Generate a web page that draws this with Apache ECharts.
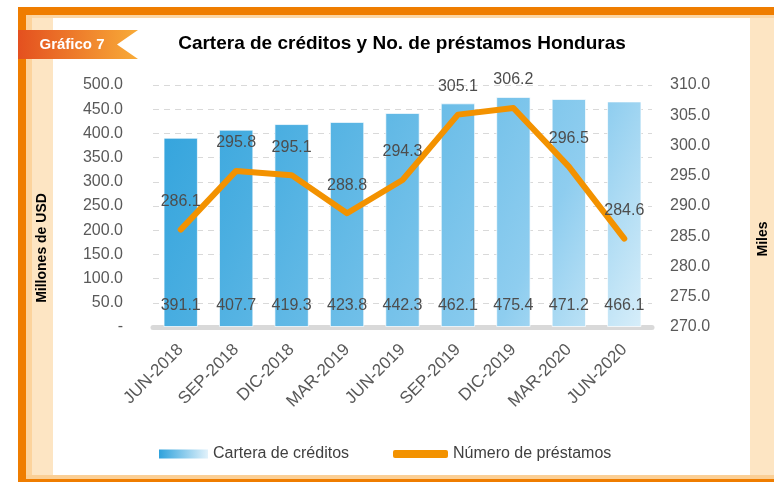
<!DOCTYPE html>
<html>
<head>
<meta charset="utf-8">
<script src="https://cdn.jsdelivr.net/npm/echarts@6/dist/echarts.min.js"></script>
<style>
  html, body { margin: 0; padding: 0; background: #fff; }
  #main { width: 774px; height: 482px; }
</style>
</head>
<body>
<div id="main"></div>
<script>
// datos del grafico
var categorias = ['JUN-2018', 'SEP-2018', 'DIC-2018', 'MAR-2019', 'JUN-2019', 'SEP-2019', 'DIC-2019', 'MAR-2020', 'JUN-2020'];
var cartera = [391.1, 407.7, 419.3, 423.8, 442.3, 462.1, 475.4, 471.2, 466.1];   // millones de USD
var prestamos = [286.1, 295.8, 295.1, 288.8, 294.3, 305.1, 306.2, 296.5, 284.6]; // miles

var FONT = '"Liberation Sans", Arial, sans-serif';
var naranja = '#f39200';

var chart = echarts.init(document.getElementById('main'), null, { renderer: 'canvas' });

// degradado global de las barras (oscuro arriba-izq, claro abajo-der)
var gradBarras = new echarts.graphic.LinearGradient(153, 85, 652, 327, [
    { offset: 0, color: '#2fa2dc' },
    { offset: 0.25, color: '#4cafe1' },
    { offset: 0.75, color: '#8ecdef' },
    { offset: 1, color: '#dcf0fa' }
], true);

var option = {
    animation: false,
    backgroundColor: '#fff',
    textStyle: { fontFamily: FONT },
    graphic: [
        // marco
        { type: 'rect', shape: { x: 18, y: 7, width: 756, height: 8 }, style: { fill: '#ef7d00' } },
        { type: 'rect', shape: { x: 26, y: 15, width: 748, height: 3 }, style: { fill: '#fcd6a4' } },
        { type: 'rect', shape: { x: 18, y: 7, width: 8, height: 475 }, style: { fill: '#ef7d00' } },
        { type: 'rect', shape: { x: 26, y: 15, width: 6, height: 467 }, style: { fill: '#fcd39c' } },
        { type: 'rect', shape: { x: 32, y: 18, width: 21, height: 458 }, style: { fill: '#fde5c3' } },
        { type: 'rect', shape: { x: 750, y: 18, width: 24, height: 458 }, style: { fill: '#fde5c3' } },
        { type: 'rect', shape: { x: 26, y: 475, width: 748, height: 4 }, style: { fill: '#fbcf95' } },
        { type: 'rect', shape: { x: 18, y: 479, width: 756, height: 3 }, style: { fill: '#ef7d00' } },
        // cinta "Grafico 7"
        {
            type: 'polygon',
            shape: { points: [[18, 30], [138, 30], [117, 44.5], [138, 59], [18, 59]] },
            style: {
                fill: new echarts.graphic.LinearGradient(0, 0, 1, 0, [
                    { offset: 0, color: '#e4501f' },
                    { offset: 1, color: '#f8ab38' }
                ])
            }
        },
        {
            type: 'text', x: 72, y: 45,
            style: { text: 'Gráfico 7', fill: '#fff', font: 'bold 15px ' + FONT, align: 'center', verticalAlign: 'middle' }
        },
        {
            type: 'text', x: 402, y: 44,
            style: { text: 'Cartera de créditos y No. de préstamos Honduras', fill: '#000', font: 'bold 19px ' + FONT, align: 'center', verticalAlign: 'middle' }
        },
        // titulos de ejes
        {
            type: 'text', x: 42, y: 248, rotation: Math.PI / 2,
            style: { text: 'Millones de USD', fill: '#000', font: 'bold 14px ' + FONT, align: 'center', verticalAlign: 'middle' }
        },
        {
            type: 'text', x: 763, y: 239, rotation: Math.PI / 2,
            style: { text: 'Miles', fill: '#000', font: 'bold 14px ' + FONT, align: 'center', verticalAlign: 'middle' }
        }
    ],
    legend: [
        {
            left: 154, top: 441,
            itemWidth: 49, itemHeight: 9,
            textStyle: { color: '#404040', fontSize: 16, fontFamily: FONT },
            data: [{
                name: 'Cartera de créditos', icon: 'rect',
                itemStyle: {
                    color: new echarts.graphic.LinearGradient(0, 0, 1, 0, [
                        { offset: 0, color: '#2fa2dc' },
                        { offset: 1, color: '#e2f2fb' }
                    ]),
                    borderWidth: 0
                }
            }]
        },
        {
            left: 388, top: 441,
            itemWidth: 55, itemHeight: 8,
            textStyle: { color: '#404040', fontSize: 16, fontFamily: FONT },
            data: [{ name: 'Número de préstamos', icon: 'roundRect', itemStyle: { color: naranja } }]
        }
    ],
    grid: { left: 153, right: 122, top: 85, bottom: 155, containLabel: false },
    xAxis: {
        type: 'category',
        data: categorias,
        axisTick: { show: false },
        axisLine: { lineStyle: { color: '#d9d9d9', width: 5 } },
        axisLabel: { rotate: 45, margin: 20, color: '#595959', fontSize: 17, fontFamily: FONT, interval: 0 }
    },
    yAxis: [
        {
            type: 'value', min: 0, max: 500, interval: 50,
            axisLine: { show: false }, axisTick: { show: false },
            splitLine: { lineStyle: { color: '#d9d9d9', type: [6, 5] } },
            axisLabel: {
                margin: 30, color: '#595959', fontSize: 16, fontFamily: FONT,
                formatter: function (v) { return v === 0 ? '-' : v.toFixed(1); }
            }
        },
        {
            type: 'value', min: 270, max: 310, interval: 5,
            axisLine: { show: false }, axisTick: { show: false },
            splitLine: { show: false },
            axisLabel: {
                margin: 18, color: '#595959', fontSize: 16, fontFamily: FONT,
                formatter: function (v) { return v.toFixed(1); }
            }
        }
    ],
    series: [
        {
            name: 'Cartera de créditos',
            type: 'bar',
            data: cartera,
            barWidth: '62%',
            itemStyle: { color: gradBarras, borderColor: 'rgba(255,255,255,0.7)', borderWidth: 1 },
            label: {
                show: true, position: 'insideBottom', distance: 13,
                color: '#4d4d4d', fontSize: 16, fontFamily: FONT,
                formatter: function (p) { return p.value.toFixed(1); }
            }
        },
        {
            name: 'Número de préstamos',
            type: 'line',
            yAxisIndex: 1,
            data: prestamos,
            symbol: 'circle',
            symbolSize: 2,
            showSymbol: true,
            lineStyle: { color: naranja, width: 6, cap: 'round', join: 'round' },
            itemStyle: { color: naranja },
            label: {
                show: true, position: 'top', distance: 19,
                color: '#4d4d4d', fontSize: 16, fontFamily: FONT,
                formatter: function (p) { return p.value.toFixed(1); }
            }
        }
    ]
};

chart.setOption(option);
</script>
</body>
</html>
